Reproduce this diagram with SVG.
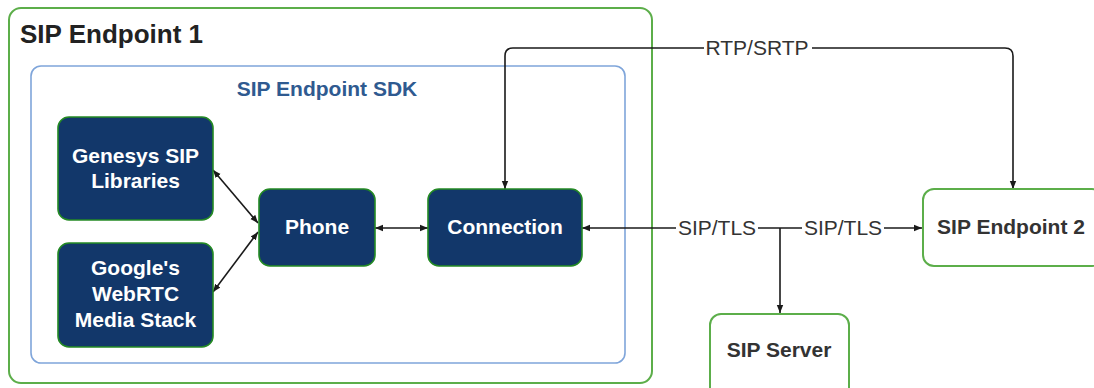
<svg xmlns="http://www.w3.org/2000/svg" width="1094" height="388" viewBox="0 0 1094 388">
  <defs>
    <marker id="arr" viewBox="0 0 10 10" refX="10" refY="5" markerWidth="8" markerHeight="8" markerUnits="userSpaceOnUse" orient="auto-start-reverse">
      <path d="M0,1 L10,5 L0,9 Z" fill="#1a1a1a"/>
    </marker>
    <style>
      .outer { fill: #ffffff; stroke: #5cae4a; stroke-width: 2; }
      .sdk { fill: #ffffff; stroke: #7fa5da; stroke-width: 1.6; }
      .navy { fill: #12376a; stroke: #248a24; stroke-width: 1.6; }
      .ext { fill: #ffffff; stroke: #5cae4a; stroke-width: 2; }
      .ntext { font-family: "Liberation Sans", Arial, sans-serif; font-weight: bold; font-size: 21px; fill: #ffffff; text-anchor: middle; }
      .etext { font-family: "Liberation Sans", Arial, sans-serif; font-weight: bold; font-size: 21px; fill: #333333; text-anchor: middle; }
      .conn { fill: none; stroke: #1a1a1a; stroke-width: 1.6; }
      .lbl { font-family: "Liberation Sans", Arial, sans-serif; font-size: 21px; fill: #333333; text-anchor: middle; }
      .lblbg { fill: #ffffff; }
    </style>
  </defs>

  <rect width="1094" height="388" fill="#ffffff"/>

  <g id="sip-endpoint-1">
    <rect class="outer" x="9" y="8" width="643" height="375" rx="12"/>
    <text x="20" y="43" font-family="'Liberation Sans', Arial, sans-serif" font-weight="bold" font-size="26" fill="#222222">SIP Endpoint 1</text>
  </g>

  <g id="sip-endpoint-sdk">
    <rect class="sdk" x="31" y="66" width="594" height="297" rx="10"/>
    <text x="327" y="96" font-family="'Liberation Sans', Arial, sans-serif" font-weight="bold" font-size="21" fill="#2f5a90" text-anchor="middle">SIP Endpoint SDK</text>
  </g>

  <g id="connectors">
    <line class="conn" x1="213" y1="170" x2="258" y2="223" marker-start="url(#arr)" marker-end="url(#arr)"/>
    <line class="conn" x1="213" y1="292" x2="258" y2="232" marker-start="url(#arr)" marker-end="url(#arr)"/>
    <line class="conn" x1="375" y1="228" x2="428" y2="228" marker-start="url(#arr)" marker-end="url(#arr)"/>
    <path class="conn" d="M780,228 H582" marker-end="url(#arr)"/>
    <path class="conn" d="M780,228 H922" marker-end="url(#arr)"/>
    <path class="conn" d="M780,228 V313" marker-end="url(#arr)"/>
    <path class="conn" d="M757,48 H513 Q505,48 505,56 V189" marker-end="url(#arr)"/>
    <path class="conn" d="M757,48 H1005 Q1013,48 1013,56 V189" marker-end="url(#arr)"/>
    <rect class="lblbg" x="676" y="216" width="82" height="24"/>
    <text class="lbl" x="717" y="235">SIP/TLS</text>
    <rect class="lblbg" x="802" y="216" width="82" height="24"/>
    <text class="lbl" x="843" y="235">SIP/TLS</text>
    <rect class="lblbg" x="704" y="36" width="108" height="24"/>
    <text class="lbl" x="757" y="55">RTP/SRTP</text>
  </g>

  <g id="genesys-sip-libraries">
    <rect class="navy" x="58" y="117" width="155" height="103" rx="11"/>
    <text class="ntext" x="135.5" y="163">Genesys SIP</text>
    <text class="ntext" x="135.5" y="188">Libraries</text>
  </g>

  <g id="google-webrtc">
    <rect class="navy" x="58" y="243" width="155" height="104" rx="11"/>
    <text class="ntext" x="135.5" y="275">Google's</text>
    <text class="ntext" x="135.5" y="301">WebRTC</text>
    <text class="ntext" x="135.5" y="327">Media Stack</text>
  </g>

  <g id="phone">
    <rect class="navy" x="259" y="189" width="116" height="77" rx="11"/>
    <text class="ntext" x="317" y="234">Phone</text>
  </g>

  <g id="connection">
    <rect class="navy" x="428" y="189" width="154" height="77" rx="11"/>
    <text class="ntext" x="505" y="234">Connection</text>
  </g>

  <g id="sip-endpoint-2">
    <rect class="ext" x="923" y="189" width="180" height="77" rx="11"/>
    <text class="etext" x="1011" y="234">SIP Endpoint 2</text>
  </g>

  <g id="sip-server">
    <rect class="ext" x="710" y="314" width="139" height="84" rx="11"/>
    <text class="etext" x="779" y="357">SIP Server</text>
  </g>
</svg>
